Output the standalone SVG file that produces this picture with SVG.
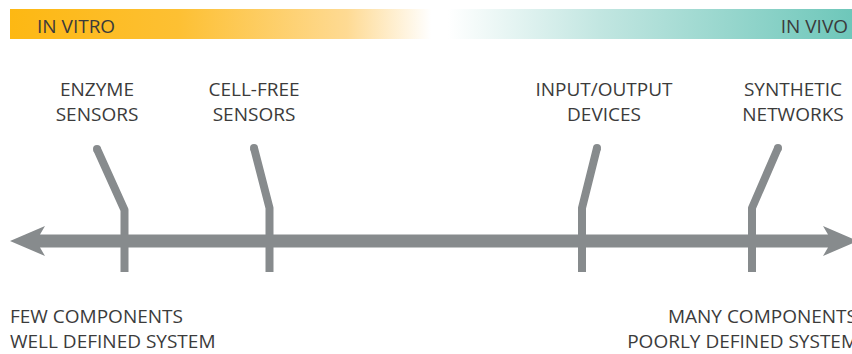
<svg xmlns="http://www.w3.org/2000/svg" width="852" height="354" viewBox="0 0 852 354">
  <defs>
    <linearGradient id="scale" x1="10" y1="0" x2="852" y2="0" gradientUnits="userSpaceOnUse">
      <stop offset="0" stop-color="#FDB813"/>
      <stop offset="0.2" stop-color="#FDC033"/>
      <stop offset="0.4" stop-color="#FEDA93"/>
      <stop offset="0.5" stop-color="#FFFFFF"/>
      <stop offset="0.52" stop-color="#FFFFFF"/>
      <stop offset="0.7" stop-color="#C2E6E1"/>
      <stop offset="1" stop-color="#6EC7BA"/>
    </linearGradient>
  </defs>
  <style>
    text { font-family: "Open Sans", "Liberation Sans", sans-serif; font-size: 19px; fill: #3b3b3b; }
    .mid { text-anchor: middle; }
    .end { text-anchor: end; }
    .tick { fill: none; stroke: #878B8D; stroke-width: 8; stroke-linejoin: round; }
    .cap { fill: #878B8D; }
    .axis { fill: #878B8D; }
  </style>

  <!-- in vitro / in vivo band -->
  <g id="band">
    <rect x="10" y="9" width="842" height="30" fill="url(#scale)"/>
    <text x="37" y="33">IN VITRO</text>
    <text x="848" y="33" class="end">IN VIVO</text>
  </g>

  <!-- double-headed axis and tick connectors -->
  <g id="connectors">
    <path class="axis" d="M10,241 L45,226 L40,234.5 L828,234.5 L823,226 L858,241 L823,256 L828,247.5 L40,247.5 L45,256 Z"/>
    <path class="tick" d="M97,149 L124.5,210 L124.5,272"/>
    <path class="tick" d="M254,148 L269.5,208 L269.5,272"/>
    <path class="tick" d="M597,148 L582,208 L582,272"/>
    <path class="tick" d="M778,148 L752,208 L752,272"/>
    <circle class="cap" cx="97" cy="149" r="4"/>
    <circle class="cap" cx="254" cy="148" r="4"/>
    <circle class="cap" cx="597" cy="148" r="4"/>
    <circle class="cap" cx="778" cy="148" r="4"/>
  </g>

  <g id="enzyme-sensors">
    <text x="97" y="96" class="mid">ENZYME</text>
    <text x="97" y="121" class="mid">SENSORS</text>
  </g>
  <g id="cell-free-sensors">
    <text x="254" y="96" class="mid">CELL-FREE</text>
    <text x="254" y="121" class="mid">SENSORS</text>
  </g>
  <g id="io-devices">
    <text x="604" y="96" class="mid">INPUT/OUTPUT</text>
    <text x="604" y="121" class="mid">DEVICES</text>
  </g>
  <g id="synthetic-networks">
    <text x="793" y="96" class="mid">SYNTHETIC</text>
    <text x="793" y="121" class="mid">NETWORKS</text>
  </g>

  <g id="few-components">
    <text x="10" y="323">FEW COMPONENTS</text>
    <text x="10" y="348">WELL DEFINED SYSTEM</text>
  </g>
  <g id="many-components">
    <text x="857" y="323" class="end">MANY COMPONENTS</text>
    <text x="858" y="348" class="end">POORLY DEFINED SYSTEM</text>
  </g>
</svg>
